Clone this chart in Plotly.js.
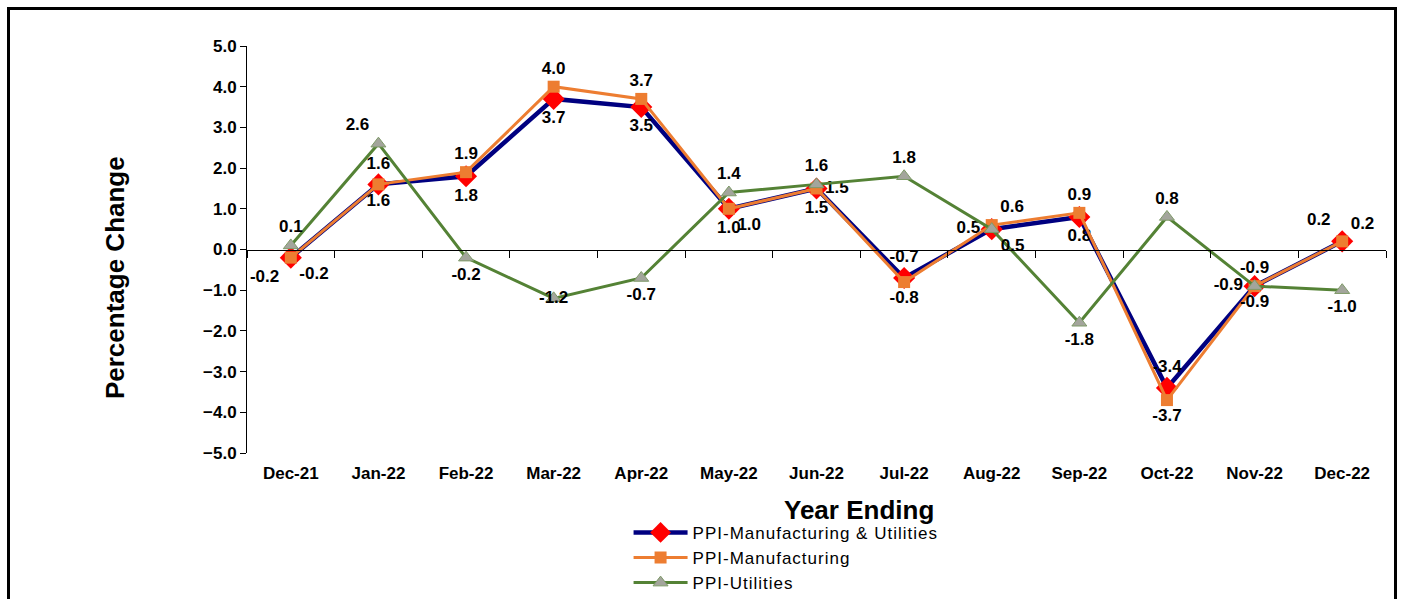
<!DOCTYPE html>
<html>
<head>
<meta charset="utf-8">
<script src="https://cdn.plot.ly/plotly-3.0.1.min.js"></script>
<style>
  html, body { margin: 0; padding: 0; background: #fff; overflow: hidden; }
  #wrap { position: relative; width: 1403px; height: 599px; overflow: hidden; }
  #chart { position: absolute; left: 0; top: 0; width: 1403px; height: 599px; }
  #frame { position: absolute; left: 7px; top: 7px; width: 1384px; height: 700px;
           border: 3px solid #000; pointer-events: none; box-sizing: content-box; }
  .legendtext { letter-spacing: 1px; }
</style>
</head>
<body>
<div id="wrap">
  <div id="chart"></div>
  <div id="frame"></div>
</div>
<script>
// ---- data ----
const categories = ["Dec-21","Jan-22","Feb-22","Mar-22","Apr-22","May-22","Jun-22",
                    "Jul-22","Aug-22","Sep-22","Oct-22","Nov-22","Dec-22"];
const ppiMfgUtil = [-0.2, 1.6, 1.8, 3.7, 3.5, 1.0, 1.5, -0.7, 0.5, 0.8, -3.4, -0.9, 0.2];
const ppiMfg     = [-0.2, 1.6, 1.9, 4.0, 3.7, 1.0, 1.5, -0.8, 0.6, 0.9, -3.7, -0.9, 0.2];
const ppiUtil    = [ 0.1, 2.6, -0.2, -1.2, -0.7, 1.4, 1.6, 1.8, 0.5, -1.8, 0.8, -0.9, -1.0];
const seriesNames = ["PPI-Manufacturing & Utilities", "PPI-Manufacturing", "PPI-Utilities"];

// ---- label placement (style, not data) ----
const posMfgUtil = ["bottom left","top center","bottom center","bottom center","bottom center",
                    "bottom center","bottom center","top center","middle left","bottom center",
                    "top center","middle left","top left"];
const posMfg     = ["bottom right","bottom center","top center","top center","top center",
                    "bottom right","middle right","bottom center","top right","top center",
                    "bottom center","bottom center","top right"];
const posUtil    = ["top center","top left","bottom center","middle center","bottom center",
                    "top center","top center","top center","bottom right","bottom center",
                    "top center","top center","bottom center"];

const FONT = "Arial, 'Liberation Sans', sans-serif";
const labelFont = {family: FONT, size: 17, color: "#000", weight: "bold"};

const traces = [
  {
    x: categories, y: ppiMfgUtil, name: seriesNames[0], legendgroup: "a",
    mode: "lines+markers+text",
    line: {color: "#000080", width: 4.5},
    marker: {symbol: "diamond", size: 17, color: "#FF0000"},
    texttemplate: "%{y:.1f}", textposition: posMfgUtil, textfont: labelFont,
    cliponaxis: false, hoverinfo: "x+y"
  },
  {
    x: categories, y: ppiMfg, name: seriesNames[1], legendgroup: "b",
    mode: "lines+markers+text",
    line: {color: "#ED7D31", width: 3},
    marker: {symbol: "square", size: 12, color: "#ED7D31"},
    texttemplate: "%{y:.1f}", textposition: posMfg, textfont: labelFont,
    cliponaxis: false, hoverinfo: "x+y"
  },
  {
    x: categories, y: ppiUtil, name: seriesNames[2], legendgroup: "c",
    mode: "lines+markers+text",
    line: {color: "#548235", width: 3},
    marker: {symbol: "triangle-up", size: 13, color: "#A3A59C",
             line: {color: "#7E9A68", width: 1}},
    texttemplate: "%{y:.1f}", textposition: posUtil, textfont: labelFont,
    cliponaxis: false, hoverinfo: "x+y"
  },
  {
    // carrier for the zero-crossing category axis
    x: categories, y: categories.map(() => null), xaxis: "x2", yaxis: "y",
    mode: "lines", showlegend: false, hoverinfo: "skip"
  }
];

const layout = {
  width: 1403, height: 599,
  margin: {l: 247, r: 17, t: 46, b: 146, autoexpand: false},
  paper_bgcolor: "#fff", plot_bgcolor: "#fff",
  font: {family: FONT, color: "#000"},
  showlegend: true,
  legend: {
    x: 0.335, xanchor: "left", y: -0.152, yanchor: "top",
    font: {family: FONT, size: 17, color: "#000"},
    itemwidth: 54, tracegroupgap: 0, traceorder: "grouped",
    bgcolor: "rgba(0,0,0,0)"
  },
  xaxis: {
    type: "category", categoryorder: "array", categoryarray: categories,
    range: [-0.5, categories.length - 0.5],
    showline: false, ticks: "", showgrid: false, zeroline: false,
    tickfont: {family: FONT, size: 17, color: "#000", weight: "bold"},
    ticklabelstandoff: 8
  },
  xaxis2: {
    type: "category", categoryorder: "array", categoryarray: categories,
    range: [-0.5, categories.length - 0.5],
    overlaying: "x", anchor: "free", position: 0.5, side: "bottom",
    showline: true, linecolor: "#000", linewidth: 1,
    ticks: "outside", tickson: "boundaries", ticklen: 7, tickcolor: "#000",
    showticklabels: false, showgrid: false, zeroline: false
  },
  yaxis: {
    range: [-5, 5], dtick: 1, tick0: 0, tickformat: ".1f",
    showline: true, linecolor: "#000", linewidth: 1,
    ticks: "outside", ticklen: 6, tickcolor: "#000",
    showgrid: false, zeroline: false,
    tickfont: {family: FONT, size: 17, color: "#000", weight: "bold"}
  },
  annotations: [
    {
      text: "Percentage Change", xref: "paper", yref: "paper",
      x: -0.116, y: 0.432, xanchor: "center", yanchor: "middle",
      textangle: -90, showarrow: false,
      font: {family: FONT, size: 26, color: "#000", weight: "bold"}
    },
    {
      text: "Year Ending", xref: "paper", yref: "paper",
      x: 0.537, y: -0.14, xanchor: "center", yanchor: "middle",
      showarrow: false,
      font: {family: FONT, size: 26, color: "#000", weight: "bold"}
    }
  ]
};

Plotly.newPlot("chart", traces, layout, {displayModeBar: false, staticPlot: true});
</script>
</body>
</html>
